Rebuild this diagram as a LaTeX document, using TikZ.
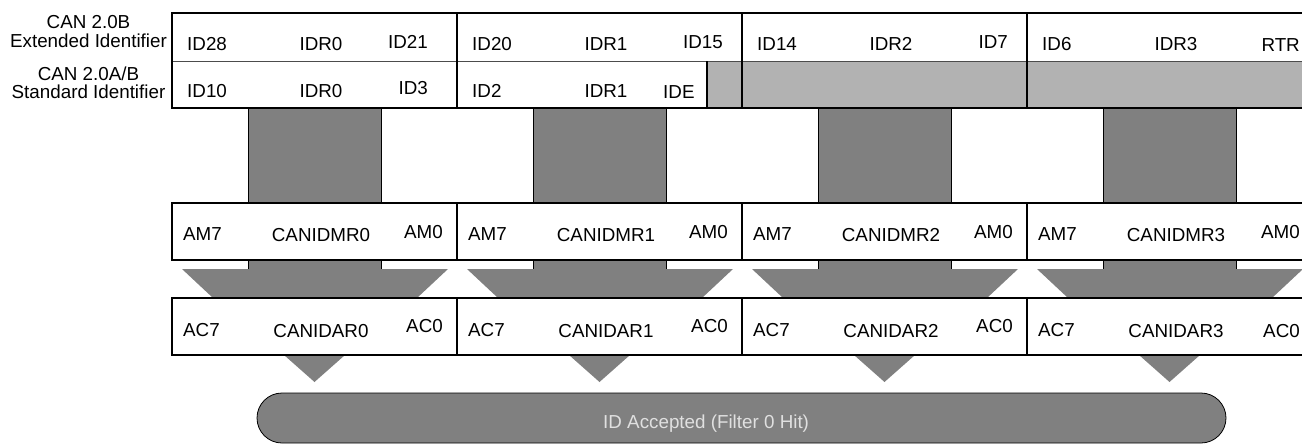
\documentclass[tikz,border=0pt]{standalone}
\usepackage{fontspec}
\setmainfont{Liberation Sans}
\usepackage{tikz}
\usetikzlibrary{calc}
\definecolor{maskgray}{gray}{0.5}
\definecolor{lightfill}{gray}{0.7}
\definecolor{hittext}{gray}{0.88}

\begin{document}
\begin{tikzpicture}[x=1pt, y=-1pt,
    every node/.style={font=\fontsize{18.8}{19}\selectfont, inner sep=0pt},
    regline/.style={line width=1.4pt, black},
    barfill/.style={fill=maskgray, draw=black, line width=0.5pt}]
    \useasboundingbox (0,0) rectangle (1302,445);
    \clip (0,0) rectangle (1302,445);

    % Identifier registers (IDR0..IDR3)
    \fill[lightfill] (707,61) rectangle (1320,108); % unused bits
    \draw[line width=0.8pt, black!70] (172,61) -- (1320,61);
    \draw[regline] (1320,13) -- (172,13) -- (172,108) -- (1320,108);
    \foreach \x in {457,742,1027} \draw[regline] (\x,13) -- (\x,108);
    \draw[regline] (707,61) -- (707,108);

    % Mask bars, funnels and hit arrows
    \foreach \c in {172,457,742,1027} {
        \draw[barfill] (\c+76,108) rectangle (\c+209,203);
        \draw[barfill] (\c+76,260) rectangle (\c+209,269);
        \fill[maskgray] (\c+10,269) -- (\c+276,269) -- (\c+245,298) -- (\c+41,298) -- cycle;
        \fill[maskgray] (\c+112,355) -- (\c+173,355) -- (\c+142.5,382) -- cycle;
    }

    % Mask registers (CANIDMR0..3)
    \draw[regline, fill=white] (1320,203) -- (172,203) -- (172,260) -- (1320,260);
    \foreach \x in {457,742,1027} \draw[regline] (\x,203) -- (\x,260);

    % Acceptance registers (CANIDAR0..3)
    \draw[regline, fill=white] (1320,298) -- (172,298) -- (172,355) -- (1320,355);
    \foreach \x in {457,742,1027} \draw[regline] (\x,298) -- (\x,355);

    % Filter hit
    \draw[fill=maskgray, line width=0.8pt, rounded corners=25pt] (257,393) rectangle (1226,443);
    \node[anchor=base west, text=hittext] (hit) at (603,428) {ID Accepted (Filter 0 Hit)};

    % Row labels
    \node[anchor=base] (canb) at (88.5,28) {CAN 2.0B};
    \node[anchor=base] (extid) at (88.5,47) {Extended Identifier};
    \node[anchor=base] (canab) at (88.5,80) {CAN 2.0A/B};
    \node[anchor=base] (stdid) at (88.5,98) {Standard Identifier};

    % Extended identifier bits
    \node[anchor=base west] (id28) at (187,50) {ID28};
    \node[anchor=base] (idr0e) at (321,50) {IDR0};
    \node[anchor=base east] (id21) at (428,48) {ID21};
    \node[anchor=base west] (id20) at (472,50) {ID20};
    \node[anchor=base] (idr1e) at (606,50) {IDR1};
    \node[anchor=base east] (id15) at (723,48) {ID15};
    \node[anchor=base west] (id14) at (757,50) {ID14};
    \node[anchor=base] (idr2e) at (891,50) {IDR2};
    \node[anchor=base east] (id7) at (1008,48) {ID7};
    \node[anchor=base west] (id6) at (1042,50) {ID6};
    \node[anchor=base] (idr3e) at (1176,50) {IDR3};
    \node[anchor=base east] (rtr) at (1300,51) {RTR};

    % Standard identifier bits
    \node[anchor=base west] (id10) at (187,97) {ID10};
    \node[anchor=base] (idr0s) at (321,97) {IDR0};
    \node[anchor=base east] (id3) at (428,94) {ID3};
    \node[anchor=base west] (id2) at (472,97) {ID2};
    \node[anchor=base] (idr1s) at (606,97) {IDR1};
    \node[anchor=base west] (ide) at (663,98) {IDE};

    % Mask register bits
    \node[anchor=base west] (am7a) at (183,240) {AM7};
    \node[anchor=base] (mr0) at (321,241) {CANIDMR0};
    \node[anchor=base east] (am0a) at (443,238) {AM0};
    \node[anchor=base west] (am7b) at (468,240) {AM7};
    \node[anchor=base] (mr1) at (606,241) {CANIDMR1};
    \node[anchor=base east] (am0b) at (728,238) {AM0};
    \node[anchor=base west] (am7c) at (753,240) {AM7};
    \node[anchor=base] (mr2) at (891,241) {CANIDMR2};
    \node[anchor=base east] (am0c) at (1013,238) {AM0};
    \node[anchor=base west] (am7d) at (1038,240) {AM7};
    \node[anchor=base] (mr3) at (1176,241) {CANIDMR3};
    \node[anchor=base east] (am0d) at (1300,238) {AM0};

    % Acceptance register bits
    \node[anchor=base west] (ac7a) at (183,336) {AC7};
    \node[anchor=base] (ar0) at (321,337) {CANIDAR0};
    \node[anchor=base east] (ac0a) at (443,332) {AC0};
    \node[anchor=base west] (ac7b) at (468,336) {AC7};
    \node[anchor=base] (ar1) at (606,337) {CANIDAR1};
    \node[anchor=base east] (ac0b) at (728,332) {AC0};
    \node[anchor=base west] (ac7c) at (753,336) {AC7};
    \node[anchor=base] (ar2) at (891,337) {CANIDAR2};
    \node[anchor=base east] (ac0c) at (1013,332) {AC0};
    \node[anchor=base west] (ac7d) at (1038,336) {AC7};
    \node[anchor=base] (ar3) at (1176,337) {CANIDAR3};
    \node[anchor=base east] (ac0d) at (1300,337) {AC0};
\end{tikzpicture}
\end{document}
